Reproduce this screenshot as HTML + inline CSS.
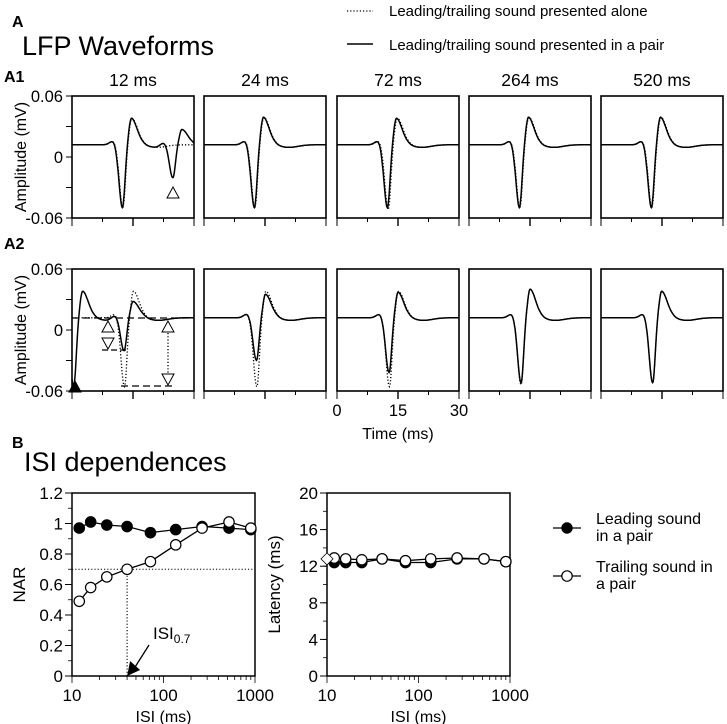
<!DOCTYPE html>
<html><head><meta charset="utf-8">
<style>
body{margin:0;background:#fff;}
svg{display:block;font-family:"Liberation Sans",Arial,sans-serif;}
</style></head>
<body>
<svg id="fig" width="727" height="724" viewBox="0 0 727 724">
<g id="gA"></g>
<g id="gB"></g>
</svg>
<script>
// ---------- Data ----------
const isiLabels = ["12 ms","24 ms","72 ms","264 ms","520 ms"];
// waveform components: [time(ms), trough(mV), peak(mV)]
const a1Solid = [[[12.4,-0.050,0.038],[24.8,-0.020,0.027]],[[12.4,-0.050,0.039]],[[12.4,-0.050,0.038]],[[12.4,-0.050,0.039]],[[12.4,-0.050,0.039]]];
const a1Dotted = [[[12.5,-0.050,0.038]],[[12.5,-0.050,0.039]],[[12.6,-0.052,0.038]],[[12.5,-0.050,0.039]],[[12.5,-0.050,0.039]]];
const a2Solid = [[[0.4,-0.056,0.038],[12.8,-0.020,0.028]],[[12.9,-0.030,0.035]],[[12.8,-0.042,0.037]],[[12.8,-0.052,0.040]],[[12.7,-0.052,0.038]]];
const a2Dotted = [[[12.9,-0.056,0.038]],[[13.0,-0.056,0.038]],[[12.9,-0.056,0.038]],[[12.8,-0.054,0.040]],[[12.7,-0.052,0.038]]];
const baseline = 0.012;
const ampTicks = [0.06,0,-0.06];
const timeTicks = [0,15,30];

const isi = [12,16,24,40,72,136,264,520,900];
const narLeading = [0.97,1.01,0.99,0.98,0.94,0.96,0.98,0.97,0.96];
const narTrailing = [0.49,0.58,0.65,0.70,0.75,0.86,0.97,1.01,0.97];
const latLeading = [12.4,12.4,12.4,12.8,12.4,12.4,12.8,12.8,12.5];
const latTrailing = [12.9,12.8,12.7,12.8,12.6,12.8,12.9,12.8,12.5];
const latAlone = 12.8;
const narTicks = [0,0.2,0.4,0.6,0.8,1,1.2];
const narTickLabels = ["0","0.2","0.4","0.6","0.8","1","1.2"];
const latTicks = [0,4,8,12,16,20];
const xTicks = [10,100,1000];
const narThreshold = 0.7;
const isiThreshold = 40;

// ---------- helpers ----------
const NS="http://www.w3.org/2000/svg";
function mk(tag,attrs,parent){const e=document.createElementNS(NS,tag);for(const k in attrs)e.setAttribute(k,attrs[k]);parent.appendChild(e);return e;}
function txt(s,x,y,size,anchor,parent,extra){const t=mk('text',Object.assign({x:x,y:y,'font-size':size,'text-anchor':anchor||'start',fill:'#000'},extra||{}),parent);t.textContent=s;return t;}
const gA=document.getElementById('gA'), gB=document.getElementById('gB');

// ---------- Panel A ----------
const panelX=[72,204,337,469,601], PW=122, PH=122;
const rowY=[96,269];
function g(t,mu,s){return Math.exp(-0.5*((t-mu)/s)**2);}
function ag(t,mu,sl,sr){return g(t,mu,t<mu?sl:sr);}
function wave(t,comps){
  let v=baseline;
  comps.forEach(c=>{
    const [t0,tr,pk]=c;
    v+=0.004*g(t,t0-2.2,0.9);
    v+=(tr-baseline)*ag(t,t0,0.85,0.6);
    v+=(pk-baseline)*ag(t,t0+2.2,0.6,1.3);
    v+=0.002*g(t,t0+4.5,1.0);
    v+=-0.0025*g(t,t0+8.5,2.2);
  });
  return v;
}
function drawRow(r){
  const y0=rowY[r];
  const yS=v=>y0+PH/2-v*(PH/2/0.06);
  const solid=r===0?a1Solid:a2Solid, dotted=r===0?a1Dotted:a2Dotted;
  for(let p=0;p<5;p++){
    const x0=panelX[p];
    const xS=t=>x0+t/30*PW;
    const grp=mk('g',{},gA);
    
    
    mk('rect',{x:x0,y:y0,width:PW,height:PH,fill:'none',stroke:'#000','stroke-width':1.6},grp);
    [0,7.5,15,22.5,30].forEach((t,i)=>{
      mk('line',{x1:xS(t),x2:xS(t),y1:y0+PH,y2:y0+PH+(i%2===0?8:4),stroke:'#000','stroke-width':i===2?1.4:1},grp);
    });
    function path(comps,dash,name){
      let d='';
      for(let t=0;t<=30.001;t+=0.1){d+=(t===0?'M':'L')+xS(t).toFixed(1)+','+yS(wave(t,comps)).toFixed(1);}
      const el=mk('path',{d:d,fill:'none',stroke:'#000','stroke-width':dash?1.3:1.5,'stroke-dasharray':dash?'1.2,2':'none'},grp);
      
      
    }
    path(dotted[p],true,'alone-trace');
    path(solid[p],false,'pair-trace');
    if(p===0){
      [0.06,0.03,0,-0.03,-0.06].forEach(v=>{mk('line',{x1:x0-6,x2:x0,y1:yS(v),y2:yS(v),stroke:'#000','stroke-width':1},gA);});
      ampTicks.forEach(v=>{const t=txt(v===0?'0':v.toFixed(2),x0-9,yS(v)+6,16.5,'end',gA);});
      const yl=txt('Amplitude (mV)',0,0,16,'middle',gA,{transform:'translate(26,'+(y0+PH/2)+') rotate(-90)'});
      
    }
    if(r===0){const t=txt(isiLabels[p],x0+PW/2,y0-10,17.5,'middle',gA);}
  }
}
drawRow(0);drawRow(1);
function tri(x,y,up,fill,parent){const h=11,w=6;const pts=up?`${x},${y} ${x-w},${y+h} ${x+w},${y+h}`:`${x},${y+h} ${x-w},${y} ${x+w},${y}`;return mk('polygon',{points:pts,fill:fill,stroke:'#000','stroke-width':1},parent);}
(function(){
  const ann=mk('g',{},gA);
  tri(173,187,true,'#fff',ann);
  mk('line',{x1:72,x2:194,y1:318,y2:318,stroke:'#000','stroke-width':1.2,'stroke-dasharray':'7,4'},ann);
  tri(108,321,true,'#fff',ann);tri(108,338,false,'#fff',ann);
  mk('line',{x1:102,x2:126,y1:350,y2:350,stroke:'#000','stroke-width':1.2,'stroke-dasharray':'6,3'},ann);
  tri(168,321,true,'#fff',ann);
  mk('line',{x1:168,x2:168,y1:333,y2:373,stroke:'#000','stroke-width':1.3,'stroke-dasharray':'1.2,2'},ann);
  tri(168,374,false,'#fff',ann);
  mk('line',{x1:121,x2:174,y1:386,y2:386,stroke:'#000','stroke-width':1.2,'stroke-dasharray':'7,4'},ann);
  tri(75,381,true,'#000',ann);
})();
timeTicks.forEach(t=>{const e=txt(String(t),337+t/30*PW,416,16.5,'middle',gA);});
(function(){const e=txt('Time (ms)',398,439,16,'middle',gA);})();
(function(){
  let e=txt('A',12,27,16,'start',gA,{'font-weight':'bold'});
  e=txt('LFP Waveforms',22,55,27,'start',gA);
  e=txt('A1',4,82,16,'start',gA,{'font-weight':'bold'});
  e=txt('A2',4,249,16,'start',gA,{'font-weight':'bold'});
  const lg=mk('g',{},gA);
  mk('line',{x1:347,x2:373,y1:11,y2:11,stroke:'#000','stroke-width':1.2,'stroke-dasharray':'1.2,2'},lg);
  txt('Leading/trailing sound presented alone',389,16,15,'start',lg);
  mk('line',{x1:347,x2:373,y1:44,y2:44,stroke:'#000','stroke-width':1.4},lg);
  txt('Leading/trailing sound presented in a pair',389,50,15,'start',lg);
})();

// ---------- Panel B ----------
(function(){
  let e=txt('B',12,448,16,'start',gB,{'font-weight':'bold'});
  e=txt('ISI dependences',24,471,27,'start',gB);
})();
const PY0=493,PY1=676;
function chart(x0,x1,yMax,ticks,tickLabels,minorStep,title,name){
  const grp=mk('g',{},gB);
  const xS=v=>x0+(Math.log10(v)-1)/2*(x1-x0);
  const yS=v=>PY1-v/yMax*(PY1-PY0);
  mk('rect',{x:x0,y:PY0,width:x1-x0,height:PY1-PY0,fill:'none',stroke:'#000','stroke-width':1.5},grp);
  for(let v=0;v<=yMax+1e-9;v+=minorStep){mk('line',{x1:x0-4,x2:x0,y1:yS(v),y2:yS(v),stroke:'#000','stroke-width':0.8},grp);}
  ticks.forEach((v,i)=>{mk('line',{x1:x0-7,x2:x0,y1:yS(v),y2:yS(v),stroke:'#000','stroke-width':1},grp);
    const t=txt(tickLabels[i],x0-9,yS(v)+6,17,'end',grp);});
  [10,100].forEach(dec=>{for(let k=1;k<10;k++){const v=dec*k;mk('line',{x1:xS(v),x2:xS(v),y1:PY1,y2:PY1+(k===1?7:4),stroke:'#000','stroke-width':0.8},grp);}});
  mk('line',{x1:xS(1000),x2:xS(1000),y1:PY1,y2:PY1+7,stroke:'#000','stroke-width':0.8},grp);
  xTicks.forEach(v=>{const t=txt(String(v),xS(v),PY1+25,17,'middle',grp);});
  let t=txt('ISI (ms)',(x0+x1)/2,PY1+46,16,'middle',grp);
  t=txt(title,0,0,17,'middle',grp,{transform:'translate('+(x0-47)+','+((PY0+PY1)/2)+') rotate(-90)'});
  return {grp,xS,yS};
}
function series(c,vals,fill,name){
  let d='';vals.forEach((v,i)=>{d+=(i?'L':'M')+c.xS(isi[i]).toFixed(1)+','+c.yS(v).toFixed(1);});
  const p=mk('path',{d:d,fill:'none',stroke:'#000','stroke-width':1.3},c.grp);
  
  vals.forEach((v,i)=>{const m=mk('circle',{cx:c.xS(isi[i]),cy:c.yS(v),r:5.2,fill:fill,stroke:'#000','stroke-width':1.2},c.grp);
    });
}
const c1=chart(72,255,1.2,narTicks,narTickLabels,0.1,'NAR','nar-chart');
(function(){
  const l1=mk('line',{x1:72,x2:255,y1:c1.yS(narThreshold),y2:c1.yS(narThreshold),stroke:'#000','stroke-width':1.1,'stroke-dasharray':'1.2,2'},c1.grp);
  
  const l2=mk('line',{x1:c1.xS(isiThreshold),x2:c1.xS(isiThreshold),y1:c1.yS(narThreshold),y2:PY1,stroke:'#000','stroke-width':1.1,'stroke-dasharray':'1.2,2'},c1.grp);
  
  const ax=c1.xS(isiThreshold);
  mk('line',{x1:149,y1:645,x2:ax+8,y2:PY1-9,stroke:'#000','stroke-width':1.3},c1.grp);
  mk('polygon',{points:`${ax},${PY1} ${ax+3},${PY1-15} ${ax+13},${PY1-6}`,fill:'#000'},c1.grp);
  const t=mk('text',{x:153,y:639,'font-size':17,fill:'#000'},c1.grp);t.innerHTML='ISI<tspan font-size="12" dy="4">0.7</tspan>';
  
})();
series(c1,narLeading,'#000','nar-leading');
series(c1,narTrailing,'#fff','nar-trailing');

const c2=chart(327,510,20,latTicks,latTicks.map(String),2,'Latency (ms)','latency-chart');
series(c2,latLeading,'#000','latency-leading');
series(c2,latTrailing,'#fff','latency-trailing');
(function(){const x=c2.xS(10),y=c2.yS(latAlone);const d=mk('polygon',{points:`${x-6},${y} ${x},${y-6} ${x+6},${y} ${x},${y+6}`,fill:'#fff',stroke:'#000','stroke-width':0.8},c2.grp);
  })();

(function(){
  const lg=mk('g',{},gB);
  mk('line',{x1:553,x2:581,y1:528,y2:528,stroke:'#000','stroke-width':1.3},lg);
  mk('circle',{cx:567,cy:528,r:5.2,fill:'#000',stroke:'#000'},lg);
  txt('Leading sound',596,524,16,'start',lg);txt('in a pair',596,541,16,'start',lg);
  mk('line',{x1:553,x2:581,y1:576,y2:576,stroke:'#000','stroke-width':1.3},lg);
  mk('circle',{cx:567,cy:576,r:5.2,fill:'#fff',stroke:'#000','stroke-width':1.2},lg);
  txt('Trailing sound in',596,572,16,'start',lg);txt('a pair',596,589,16,'start',lg);
})();
</script>
</body></html>
